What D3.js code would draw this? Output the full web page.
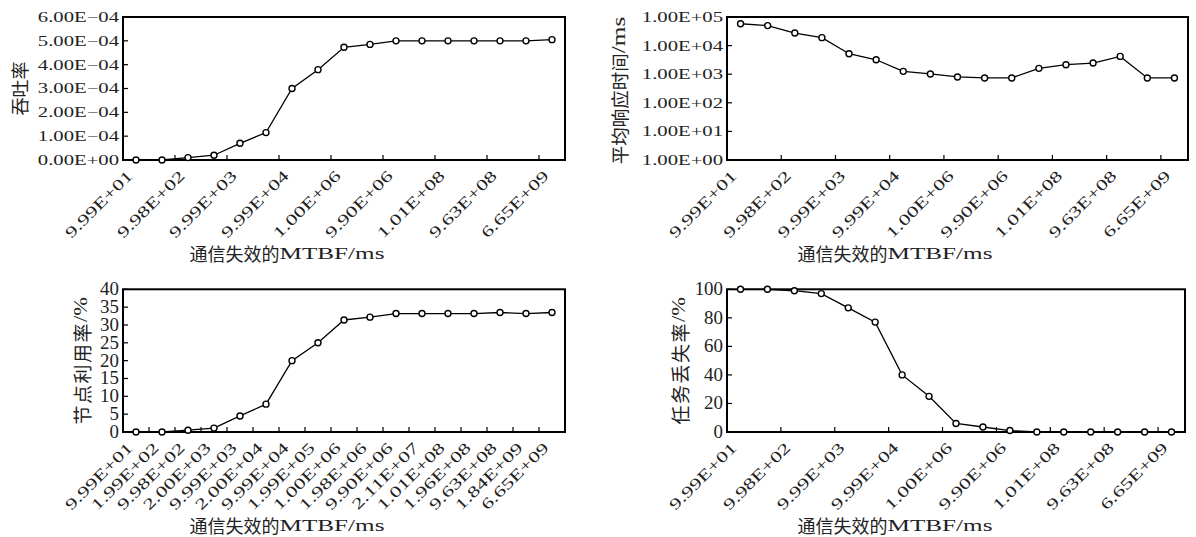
<!DOCTYPE html>
<html>
<head>
<meta charset="utf-8">
<script src="https://cdn.jsdelivr.net/npm/d3@7"></script>
<style>
  body { margin: 0; background: #fff; }
  svg { display: block; }
</style>
</head>
<body>
<div id="chart"></div>
<script>
// x categories: MTBF of communication failure (ms)
const mtbfLabels = ["9.99E+01","1.99E+02","9.98E+02","2.00E+03","9.99E+03","2.00E+04","9.99E+04","1.99E+05","1.00E+06",
                    "1.98E+06","9.90E+06","2.11E+07","1.01E+08","1.96E+08","9.63E+08","1.84E+09","6.65E+09"];

// series values
const throughput   = [0, 0, 1e-5, 2e-5, 7e-5, 1.15e-4, 3.0e-4, 3.79e-4, 4.73e-4, 4.85e-4, 5.0e-4, 5.0e-4, 5.0e-4, 5.0e-4, 5.0e-4, 5.0e-4, 5.05e-4];
const responseTime = [58000, 50000, 27500, 19000, 5200, 3200, 1260, 1020, 800, 740, 740, 1600, 2150, 2450, 4200, 740, 740];
const nodeUtil     = [0, 0, 0.5, 1.1, 4.5, 7.8, 20, 25, 31.4, 32.2, 33.2, 33.2, 33.2, 33.2, 33.5, 33.2, 33.5];
const taskLoss     = [100, 100, 99, 97, 87, 77, 40, 25, 6, 3.5, 1, 0, 0, 0, 0, 0, 0];

// y ticks
const throughputTicks  = [0, 1e-4, 2e-4, 3e-4, 4e-4, 5e-4, 6e-4];
const throughputLabels = ["0.00E+00","1.00E\u221204","2.00E\u221204","3.00E\u221204","4.00E\u221204","5.00E\u221204","6.00E\u221204"];
const responseTicks    = [1, 10, 100, 1000, 10000, 100000];
const responseLabels   = ["1.00E+00","1.00E+01","1.00E+02","1.00E+03","1.00E+04","1.00E+05"];
const utilTicks        = [0, 5, 10, 15, 20, 25, 30, 35, 40];
const lossTicks        = [0, 20, 40, 60, 80, 100];

const W = 1196, H = 537;
const latinFont = "'Liberation Serif', 'DejaVu Serif', serif";
const cjkFont = "'Noto Sans CJK SC', sans-serif";
const ink = "#222";

const svg = d3.select("#chart").append("svg")
  .attr("width", W)
  .attr("height", H);

svg.append("rect").attr("width", W).attr("height", H).attr("fill", "#fff");

// text stretched along its own direction (the source font is very wide)
function wideText(parent, x, y, str, size, k, anchor, angle=0){
  const g = parent.append("g")
    .attr("transform", `translate(${x},${y}) rotate(${angle}) scale(${k},1)`);
  g.append("text")
    .attr("font-family", latinFont)
    .attr("font-size", size)
    .attr("fill", ink)
    .attr("text-anchor", anchor)
    .attr("dominant-baseline", "central")
    .text(str);
  return g;
}

// axis title: CJK part followed by a stretched latin part, centred on (cx, cy)
function drawTitle(parent, cx, cy, cjk, latin, size, latinSize, k, angle, spacing=0){
  const outer = parent.append("g").attr("transform", `translate(${cx},${cy}) rotate(${angle})`);
  const inner = outer.append("g");
  const t1 = inner.append("text")
    .attr("font-family", cjkFont)
    .attr("font-size", size)
    .attr("letter-spacing", spacing)
    .attr("fill", ink)
    .attr("dominant-baseline", "central")
    .text(cjk);
  const w1 = t1.node().getComputedTextLength();
  const lg = inner.append("g").attr("transform", `translate(${w1},0) scale(${k},1)`);
  const t2 = lg.append("text")
    .attr("font-family", latinFont)
    .attr("font-size", latinSize)
    .attr("fill", ink)
    .attr("dominant-baseline", "central")
    .text(latin);
  const w2 = latin ? t2.node().getComputedTextLength()*k : 0;
  inner.attr("transform", `translate(${-(w1+w2)/2},0)`);
}

function drawPanel(p){
  const g = svg.append("g");
  const x = d3.scaleBand().domain(mtbfLabels).range([p.left, p.right]).padding(0);
  const y = (p.log ? d3.scaleLog() : d3.scaleLinear()).domain(p.domain).range([p.bottom, p.top]);

  // frame
  g.append("rect")
    .attr("x", p.left).attr("y", p.top)
    .attr("width", p.right - p.left).attr("height", p.bottom - p.top)
    .attr("fill", "none").attr("stroke", "#000").attr("stroke-width", 2);

  // y ticks (pointing inwards) and labels
  p.yTicks.forEach((v, i) => {
    g.append("line")
      .attr("x1", p.left).attr("x2", p.left + 5)
      .attr("y1", y(v)).attr("y2", y(v))
      .attr("stroke", "#000").attr("stroke-width", 1.2);
    wideText(g, p.left - 4, y(v), p.yLabels[i], p.yFont, p.yK, "end");
  });

  // x ticks at band starts, every `step` categories
  const tickCats = mtbfLabels.filter((c, i) => i % p.step === 0);
  tickCats.forEach(c => {
    g.append("line")
      .attr("x1", x(c)).attr("x2", x(c))
      .attr("y1", p.bottom).attr("y2", p.bottom - 5)
      .attr("stroke", "#000").attr("stroke-width", 1.2);
    wideText(g, x(c) + 7, p.bottom + 13, c, 15.5, 1.45, "end", -45);
  });

  // series
  const pts = p.values.map((v, i) => ({c: mtbfLabels[i], v: v}));
  const line = d3.line()
    .x(d => x(d.c) + x.bandwidth()/2)
    .y(d => y(d.v));
  g.append("path")
    .datum(pts)
    .attr("d", line)
    .attr("fill", "none")
    .attr("stroke", "#000")
    .attr("stroke-width", 1.3);
  g.selectAll(".pt").data(pts).enter().append("circle")
    .attr("cx", d => x(d.c) + x.bandwidth()/2)
    .attr("cy", d => y(d.v))
    .attr("r", 3)
    .attr("fill", "#fff")
    .attr("stroke", "#000")
    .attr("stroke-width", 1.4);

  drawTitle(g, p.xTitleX, p.bottom + 93, "通信失效的", "MTBF/ms", 18, 17, 1.48, 0);
  drawTitle(g, p.yTitleX, (p.top + p.bottom)/2 + p.yTitleDy, p.yTitle, p.yTitleLatin, p.yTitleSize, 18, p.yTitleK, -90, p.yTitleSpacing);
}

drawPanel({left: 123, right: 565, top: 17, bottom: 160, domain: [0, 6e-4], log: false,
  yTicks: throughputTicks, yLabels: throughputLabels, yFont: 15, yK: 1.38,
  values: throughput, step: 2, xTitleX: 287,
  yTitleX: 19, yTitleDy: 0, yTitle: "吞吐率", yTitleLatin: "", yTitleSize: 18, yTitleK: 1.6, yTitleSpacing: 0});

drawPanel({left: 727, right: 1188, top: 17, bottom: 160, domain: [1, 1e5], log: true,
  yTicks: responseTicks, yLabels: responseLabels, yFont: 15, yK: 1.38,
  values: responseTime, step: 2, xTitleX: 895,
  yTitleX: 619, yTitleDy: 2, yTitle: "平均响应时间", yTitleLatin: "/ms", yTitleSize: 18.5, yTitleK: 1.4, yTitleSpacing: 0});

drawPanel({left: 123, right: 565, top: 289.3, bottom: 432, domain: [0, 40], log: false,
  yTicks: utilTicks, yLabels: utilTicks.map(String), yFont: 18, yK: 1.05,
  values: nodeUtil, step: 1, xTitleX: 287,
  yTitleX: 81, yTitleDy: 0, yTitle: "节点利用率", yTitleLatin: "/%", yTitleSize: 19, yTitleK: 1.25, yTitleSpacing: 1.5});

drawPanel({left: 727, right: 1185, top: 289.3, bottom: 432, domain: [0, 100], log: false,
  yTicks: lossTicks, yLabels: lossTicks.map(String), yFont: 18, yK: 1.05,
  values: taskLoss, step: 2, xTitleX: 895,
  yTitleX: 679, yTitleDy: 0, yTitle: "任务丢失率", yTitleLatin: "/%", yTitleSize: 19, yTitleK: 1.25, yTitleSpacing: 1.5});
</script>
</body>
</html>
